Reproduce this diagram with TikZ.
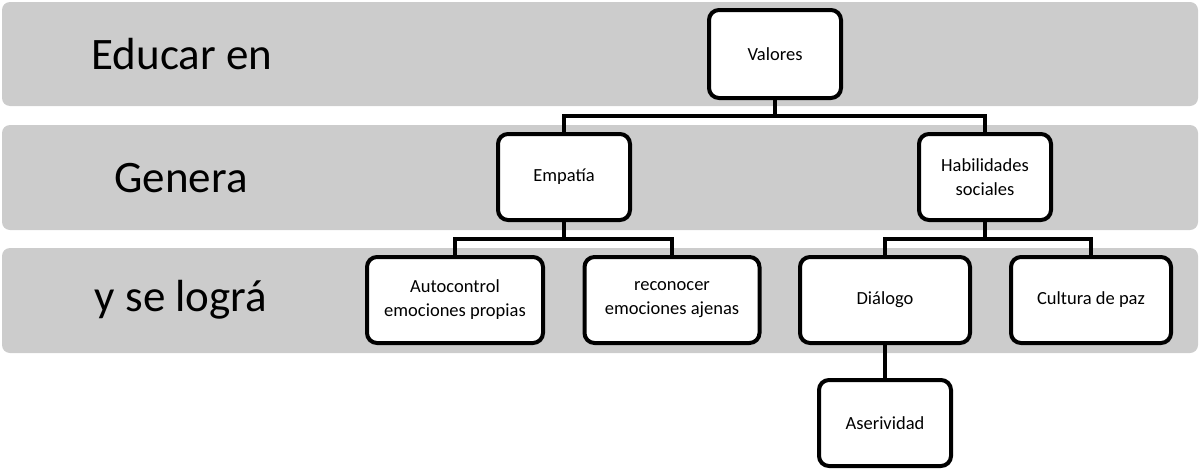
\documentclass[tikz,border=0pt]{standalone}
\usepackage{fontspec}
\setmainfont{Carlito}
\usepackage{tikz}
\usetikzlibrary{positioning}
\definecolor{bandgray}{HTML}{CCCCCC}

\begin{document}
\begin{tikzpicture}[
        x=1pt, y=-1pt,
        band/.style={fill=bandgray, rounded corners=8pt},
        bandlabel/.style={font=\fontsize{45}{52}\selectfont},
        box/.style={rectangle, draw, fill=white, line width=4pt, rounded corners=10pt, align=center, minimum width=132pt, minimum height=86pt, font=\fontsize{18.5}{24}\selectfont},
        link/.style={draw, line width=4pt}
    ]
    \useasboundingbox (0,0) rectangle (1199,471);
    % background bands
    \fill [band] (2,2) rectangle (1198,106);
    \fill [band] (2,125) rectangle (1198,230);
    \fill [band] (2,248) rectangle (1198,353);
    \node [bandlabel] (educar) at (182,54) {Educar en};
    \node [bandlabel] (genera) at (181,178) {Genera};
    \node [bandlabel] (logra) at (181,300) {y se lográ};
    % tree
    \node [box, minimum height=88pt] (valores) at (775,54) {Valores};
    \node [box] (empatia) at (564,177) {Empatía};
    \node [box] (habil) at (985,177) {Habilidades\\sociales};
    \node [box, minimum width=176pt] (autoc) at (455,300) {Autocontrol\\emociones propias};
    \node [box, minimum width=175pt] (recon) at (672,300) {reconocer\\emociones ajenas};
    \node [box, minimum width=170pt] (dialogo) at (885,300) {Diálogo};
    \node [box, minimum width=160pt] (cultura) at (1091,300) {Cultura de paz};
    \node [box, below=33pt of dialogo] (aseri) {Aserividad};
    \coordinate (bus1) at (775,116);
    \coordinate (bus2) at (564,239);
    \coordinate (bus3) at (985,239);
    \path [link] (valores) -- (bus1) -| (empatia);
    \path [link] (bus1) -| (habil);
    \path [link] (empatia) -- (bus2) -| (autoc);
    \path [link] (bus2) -| (recon);
    \path [link] (habil) -- (bus3) -| (dialogo);
    \path [link] (bus3) -| (cultura);
    \path [link] (dialogo) -- (aseri);
\end{tikzpicture}
\end{document}
